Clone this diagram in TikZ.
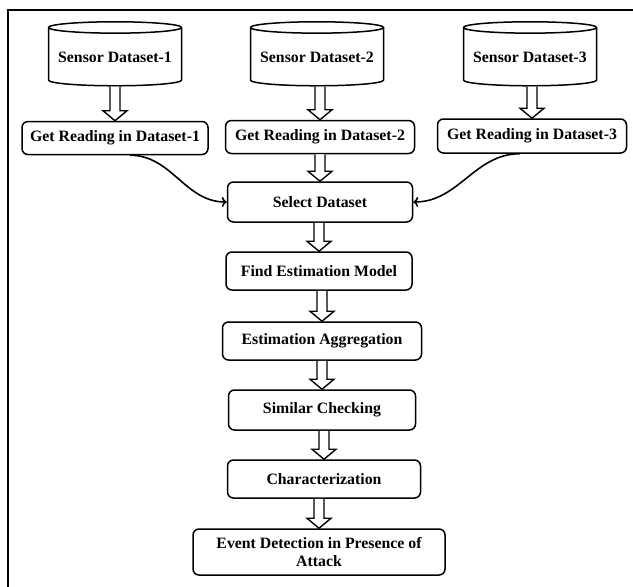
\documentclass[tikz,border=0pt]{standalone}
\usepackage{fontspec}
\setmainfont{Liberation Serif}
\usepackage{tikz}
\usetikzlibrary{calc,arrows.meta,shapes.geometric}
\tikzset{
  stepbox/.style={draw,line width=1.5pt,rounded corners=6pt,align=center,inner sep=2pt,
    font=\fontsize{15.8}{18}\selectfont\bfseries},
  dbase/.style={cylinder,shape border rotate=90,draw,line width=1.5pt,aspect=0.1,
    minimum width=133pt,minimum height=64pt,inner sep=0pt,font=\fontsize{15.8}{18}\selectfont\bfseries},
  hollow/.style={draw,line width=1.4pt,fill=white,line join=miter},
  curvar/.style={-{To[length=5pt,width=10pt]},line width=1.6pt}
}
\newcommand{\hollowarrow}[2]{%
  \coordinate (hs) at (#1 -| #2);
  \draw[hollow] ([xshift=-5pt]hs) -- ([xshift=-5pt,yshift=10pt]#2) -- ++(-7pt,0) -- (#2)
    -- ++(12pt,10pt) -- ++(-7pt,0) -- ([xshift=5pt]hs);
}

\begin{document}
\begin{tikzpicture}[x=1pt,y=-1pt]
\useasboundingbox (0,0) rectangle (633,587);
\draw[line width=1.6pt] (8,587) -- (8,10) -- (633,10);
% data sources
\node[dbase] (ds1) at (115,57) {Sensor Dataset-1};
\node[dbase] (ds2) at (317,57) {Sensor Dataset-2};
\node[dbase] (ds3) at (530,57) {Sensor Dataset-3};
\node[stepbox,minimum width=186pt,minimum height=33pt] (gr1) at (115,138) {Get Reading in Dataset-1};
\node[stepbox,minimum width=189pt,minimum height=33pt] (gr2) at (320,137) {Get Reading in Dataset-2};
\node[stepbox,minimum width=189pt,minimum height=34pt] (gr3) at (532,136) {Get Reading in Dataset-3};
% main flow
\node[stepbox,minimum width=185pt,minimum height=40pt] (sel) at (320,202) {Select Dataset};
\node[stepbox,minimum width=186pt,minimum height=38pt] (fem) at (319,271) {Find Estimation Model};
\node[stepbox,minimum width=199pt,minimum height=38pt] (agg) at (322,341) {Estimation Aggregation};
\node[stepbox,minimum width=187pt,minimum height=40pt] (sim) at (322,410) {Similar Checking};
\node[stepbox,minimum width=193pt,minimum height=38pt] (chr) at (324,479) {Characterization};
\node[stepbox,minimum width=252pt,minimum height=46pt] (evt) at (319,552) {Event Detection in Presence of\\Attack};
\hollowarrow{ds1.south}{gr1.north}
\hollowarrow{ds2.south}{gr2.north}
\hollowarrow{ds3.south}{gr3.north}
\hollowarrow{gr2.south}{sel.north}
\hollowarrow{sel.south}{fem.north}
\hollowarrow{fem.south}{agg.north}
\hollowarrow{agg.south}{sim.north}
\hollowarrow{sim.south}{chr.north}
\hollowarrow{chr.south}{evt.north}
\draw[curvar] ([xshift=15pt]gr1.south) to[out=0,in=180] (sel.west);
\draw[curvar] ([xshift=-12pt]gr3.south) to[out=180,in=0] (sel.east);
\end{tikzpicture}
\end{document}
